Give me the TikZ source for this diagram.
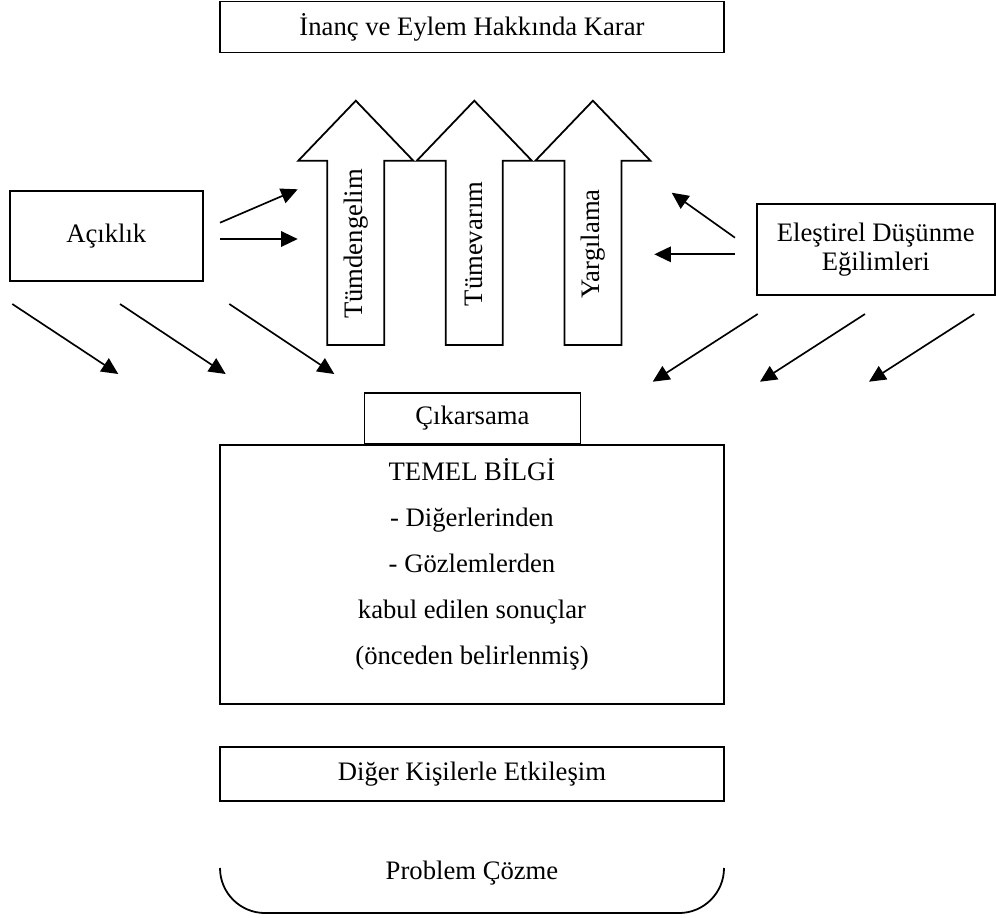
\documentclass[tikz,border=0pt]{standalone}
\usepackage{fontspec}
\setmainfont{Liberation Serif}
\usetikzlibrary{arrows.meta}

\begin{document}
\begin{tikzpicture}[
		x=0.45pt, y=-0.45pt,
		every node/.style={font=\fontsize{12}{13}\selectfont, inner sep=0},
		box/.style={draw, rectangle, line width=0.8pt, align=center},
		arrowtext/.style={rotate=90},
		blockline/.style={line width=0.8pt, line join=miter},
		arr/.style={line width=0.75pt, -{Triangle[length=7.5pt, width=7pt]}},
	]
	\useasboundingbox (0,0) rectangle (996,917);
	\node[box, minimum width=226.8pt, minimum height=22.95pt] (karar) at (472,27) {İnanç ve Eylem Hakkında Karar};

	% block arrows
	\node[arrowtext] (tumden) at (355.8,244) {Tümdengelim};
	\node[arrowtext] (tumev) at (474.3,244) {Tümevarım};
	\node[arrowtext] (yargi) at (592.9,244) {Yargılama};
	\draw[blockline] (tumden.center) ++(-28.5,101) -- ++(0,-184.3) -- ++(-29,0) -- ++(57.5,-60)
		-- ++(57.5,60) -- ++(-29,0) -- ++(0,184.3) -- cycle;
	\draw[blockline] (tumev.center) ++(-28.5,101) -- ++(0,-184.3) -- ++(-29,0) -- ++(57.5,-60)
		-- ++(57.5,60) -- ++(-29,0) -- ++(0,184.3) -- cycle;
	\draw[blockline] (yargi.center) ++(-28.5,101) -- ++(0,-184.3) -- ++(-29,0) -- ++(57.5,-60)
		-- ++(57.5,60) -- ++(-29,0) -- ++(0,184.3) -- cycle;

	\node[box, minimum width=86.7pt, minimum height=40.5pt] (acik) at (106.3,235.7) {Açıklık};
	\node[box, minimum width=107.2pt, minimum height=40.95pt] (egilim) at (875.8,249.8) {Eleştirel Düşünme\\Eğilimleri};
	\node[box, minimum width=97.2pt, minimum height=22.95pt] (cikar) at (472.4,418.4) {Çıkarsama};
	\node[box, anchor=north, minimum width=226.8pt, text height=99pt, text depth=17.7pt,
		font=\fontsize{12}{20.8}\selectfont] (temel) at (472,444)
		{TEMEL BİLGİ\\- Diğerlerinden\\- Gözlemlerden\\kabul edilen sonuçlar\\(önceden belirlenmiş)};
	\node[box, minimum width=226.8pt, minimum height=24.3pt] (diger) at (472,774) {Diğer Kişilerle Etkileşim};
	\node (cozum) at (472,873) {Problem Çözme};
	\draw[line width=0.8pt, rounded corners=20.25pt] (220,868) -- (220,913) -- (724,913) -- (724,868);

	% Açıklık
	\coordinate (a1s) at (220,222.7); \coordinate (a1e) at (297.7,189.3);
	\coordinate (a2s) at (220,239); \coordinate (a2e) at (297.7,239);
	\coordinate (d1s) at (12.3,304); \coordinate (d1e) at (118.3,374);
	\coordinate (d2s) at (120,304); \coordinate (d2e) at (225.7,374);
	\coordinate (d3s) at (229.3,304); \coordinate (d3e) at (334.3,374);
	\draw[arr] (a1s) -- (a1e);
	\draw[arr] (a2s) -- (a2e);
	\draw[arr] (d1s) -- (d1e);
	\draw[arr] (d2s) -- (d2e);
	\draw[arr] (d3s) -- (d3e);

	% Eğilimler
	\coordinate (r1s) at (735,237.7); \coordinate (r1e) at (671.7,192.7);
	\coordinate (r2s) at (735,254.3); \coordinate (r2e) at (654.3,254.3);
	\coordinate (e1s) at (757.7,314); \coordinate (e1e) at (652.7,381.7);
	\coordinate (e2s) at (865,314); \coordinate (e2e) at (760,381.7);
	\coordinate (e3s) at (974.3,314); \coordinate (e3e) at (869,381.7);
	\draw[arr] (r1s) -- (r1e);
	\draw[arr] (r2s) -- (r2e);
	\draw[arr] (e1s) -- (e1e);
	\draw[arr] (e2s) -- (e2e);
	\draw[arr] (e3s) -- (e3e);
\end{tikzpicture}
\end{document}
